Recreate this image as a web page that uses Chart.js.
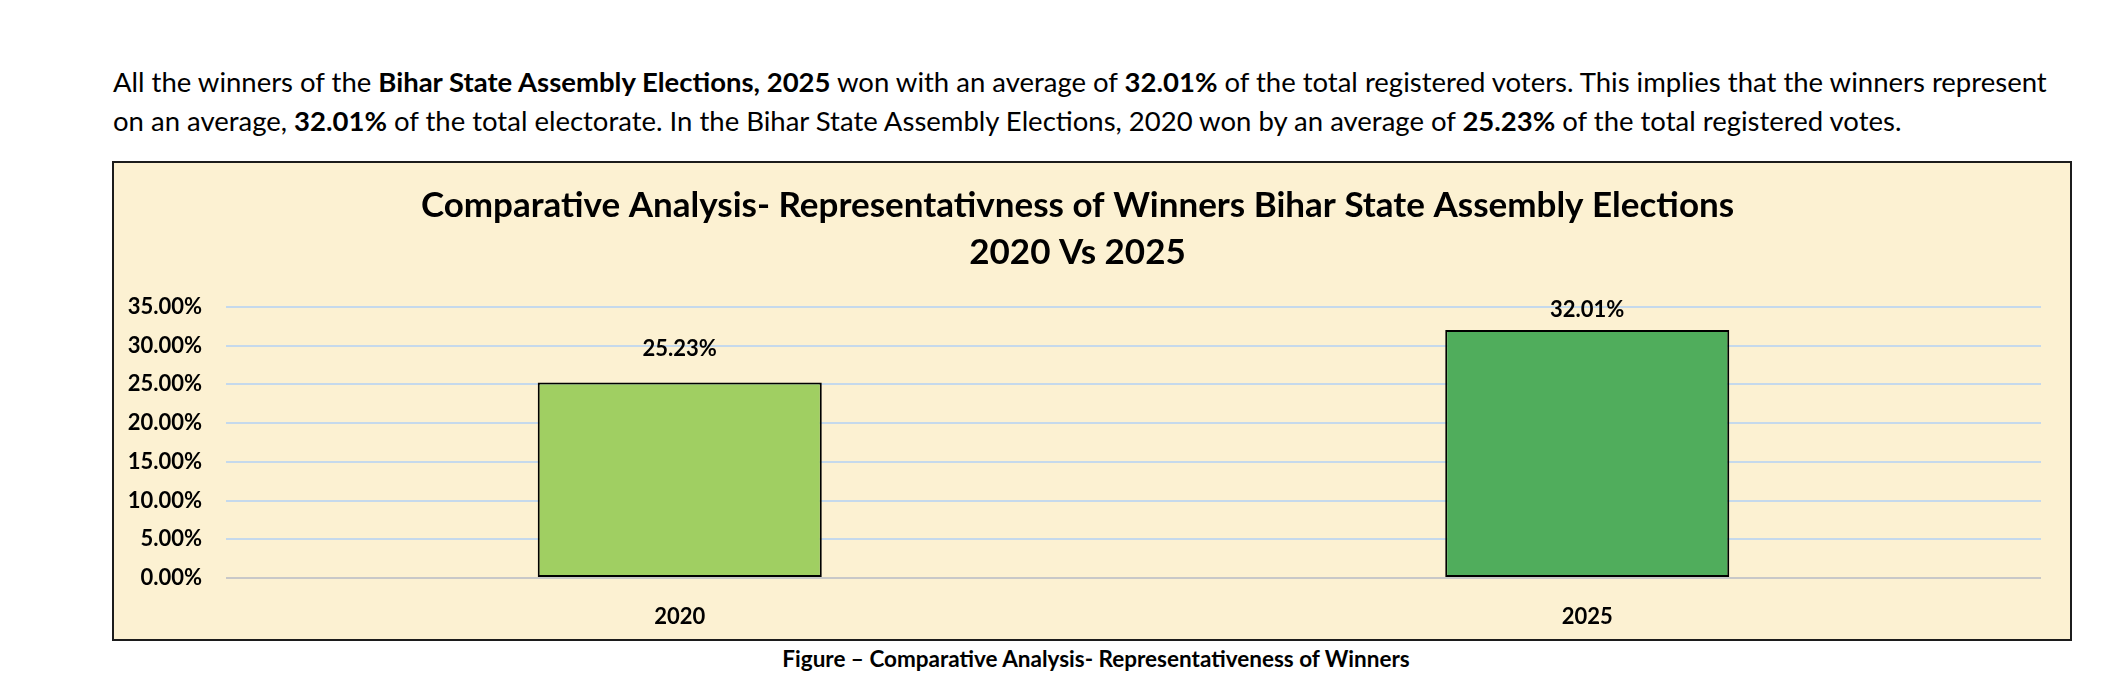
<!DOCTYPE html>
<html>
<head>
<meta charset="utf-8">
<script src="https://cdn.jsdelivr.net/npm/chart.js@4.4.1/dist/chart.umd.min.js"></script>
<style>
    body { margin: 0; background: #fff; width: 2127px; height: 683px; position: relative; overflow: hidden; font-family: Lato, sans-serif; color: #000; }
    .intro { position: absolute; left: 113px; top: 62px; width: 2000px; font-size: 27.5px; line-height: 39px; white-space: nowrap; }
    .intro b { font-weight: 700; }
    .chart-box { position: absolute; left: 112px; top: 161px; width: 1956px; height: 476px; border: 2px solid #1c1c1c; background: #fcf1d2; }
    .chart-box canvas { display: block; }
    .caption { position: absolute; left: 0; width: 2192px; top: 645px; text-align: center; font-size: 22.5px; font-weight: 700; }
</style>
</head>
<body>
<div class="intro">
    All the winners of the <b>Bihar State Assembly Elections, 2025</b> won with an average of <b>32.01%</b> of the total registered voters. This implies that the winners represent<br>
    on an average, <b>32.01%</b> of the total electorate. In the Bihar State Assembly Elections, 2020 won by an average of <b>25.23%</b> of the total registered votes.
</div>
<div class="chart-box">
    <canvas id="winnersChart" width="1956" height="476"></canvas>
</div>
<div class="caption">Figure – Comparative Analysis- Representativeness of Winners</div>

<script>
    const years = ['2020', '2025'];
    const winnerShare = [25.23, 32.01];
    const barColors = ['#a0cf62', '#50ad5c'];
    const titleLines = [
        'Comparative Analysis- Representativness of Winners Bihar State Assembly Elections',
        '2020 Vs 2025'
    ];

    // value labels above each bar
    const barLabels = {
        id: 'barLabels',
        afterDatasetsDraw(chart, args, opts) {
            const ctx = chart.ctx;
            const meta = chart.getDatasetMeta(0);
            ctx.save();
            ctx.font = 'bold 22px Lato';
            ctx.fillStyle = '#000';
            ctx.textAlign = 'center';
            ctx.textBaseline = 'middle';
            meta.data.forEach((bar, i) => {
                const value = chart.data.datasets[0].data[i];
                ctx.fillText(value.toFixed(2) + '%', bar.x, bar.y - opts.offsets[i]);
            });
            ctx.restore();
        }
    };

    const ctx = document.getElementById('winnersChart').getContext('2d');
    const winnersChart = new Chart(ctx, {
        type: 'bar',
        data: {
            labels: years,
            datasets: [{
                data: winnerShare,
                backgroundColor: barColors,
                borderColor: '#000',
                borderWidth: 2,
                borderSkipped: false,
                barPercentage: 0.313,
                categoryPercentage: 1.0
            }]
        },
        options: {
            responsive: false,
            animation: false,
            events: [],
            layout: {
                padding: { left: 0, right: 29, top: 0, bottom: 0 }
            },
            plugins: {
                legend: { display: false },
                tooltip: { enabled: false },
                title: {
                    display: true,
                    text: titleLines,
                    color: '#000',
                    font: { family: 'Lato', size: 35, weight: 'bold', lineHeight: 1.34 },
                    padding: { top: 19, bottom: 31 }
                },
                barLabels: { offsets: [34, 20] }
            },
            scales: {
                x: {
                    grid: { display: false },
                    border: { display: false },
                    ticks: {
                        color: '#000',
                        padding: 18,
                        font: { family: 'Lato', size: 22, weight: 'bold' }
                    },
                    afterFit(scale) { scale.height = 61; }
                },
                y: {
                    min: 0,
                    max: 35,
                    border: { display: false },
                    grid: {
                        drawTicks: false,
                        lineWidth: 2,
                        color: c => c.index === 0 ? '#c8c8c8' : '#c5d9ec'
                    },
                    ticks: {
                        stepSize: 5,
                        color: '#000',
                        padding: 24,
                        font: { family: 'Lato', size: 22, weight: 'bold' },
                        callback: v => v.toFixed(2) + '%'
                    },
                    afterFit(scale) { scale.width = 112; }
                }
            }
        },
        plugins: [barLabels]
    });
</script>
</body>
</html>
